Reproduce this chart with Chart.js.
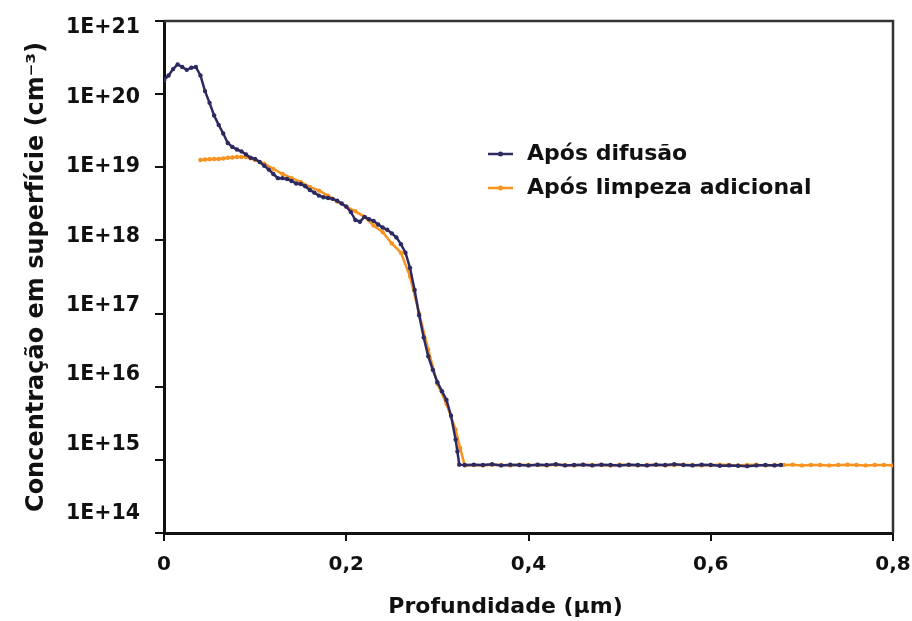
<!DOCTYPE html>
<html>
<head>
<meta charset="utf-8">
<script src="https://cdn.jsdelivr.net/npm/chart.js@4.4.1/dist/chart.umd.min.js"></script>
<style>
  html, body { margin: 0; padding: 0; background: #fff; }
  #wrap { width: 912px; height: 621px; }
</style>
</head>
<body>
<div id="wrap"><canvas id="chart" width="912" height="621"></canvas></div>
<script>
// ---------------- DATA ----------------
const seriesNames = ["Após difusão", "Após limpeza adicional"];

// Após difusão (µm, cm-3)
const depthDiff = [
  0, 0.005, 0.01, 0.015, 0.02, 0.025, 0.03, 0.035, 0.04, 0.045,
  0.05, 0.055, 0.06, 0.065, 0.07, 0.075, 0.08, 0.085, 0.09, 0.095,
  0.10, 0.105, 0.11, 0.115, 0.12, 0.125, 0.13, 0.135, 0.14, 0.145,
  0.15, 0.155, 0.16, 0.165, 0.17, 0.175, 0.18, 0.185, 0.19, 0.195,
  0.20, 0.205, 0.21, 0.215, 0.22, 0.225, 0.23, 0.235, 0.24, 0.245,
  0.25, 0.255, 0.26, 0.265, 0.27, 0.275, 0.28, 0.285, 0.29, 0.295,
  0.30, 0.305, 0.31, 0.315, 0.32, 0.322, 0.324,
  0.33, 0.34, 0.35, 0.36, 0.37, 0.38, 0.39, 0.40, 0.41, 0.42,
  0.43, 0.44, 0.45, 0.46, 0.47, 0.48, 0.49, 0.50, 0.51, 0.52,
  0.53, 0.54, 0.55, 0.56, 0.57, 0.58, 0.59, 0.60, 0.61, 0.62,
  0.63, 0.64, 0.65, 0.66, 0.67, 0.677
];
const concDiff = [
  1.55e20, 1.8e20, 2.2e20, 2.55e20, 2.35e20, 2.15e20, 2.3e20, 2.35e20, 1.8e20, 1.1e20,
  7.6e19, 5.1e19, 3.8e19, 2.9e19, 2.15e19, 1.9e19, 1.75e19, 1.65e19, 1.5e19, 1.35e19,
  1.3e19, 1.18e19, 1.05e19, 9.3e18, 8.1e18, 7.1e18, 7.1e18, 6.9e18, 6.5e18, 6.0e18,
  5.9e18, 5.5e18, 4.9e18, 4.5e18, 4.1e18, 3.9e18, 3.8e18, 3.7e18, 3.5e18, 3.2e18,
  2.9e18, 2.45e18, 1.9e18, 1.8e18, 2.1e18, 1.95e18, 1.85e18, 1.65e18, 1.5e18, 1.4e18,
  1.25e18, 1.1e18, 8.9e17, 6.8e17, 4.2e17, 2.1e17, 9.5e16, 4.7e16, 2.6e16, 1.7e16,
  1.15e16, 8.7e15, 6.6e15, 4.0e15, 1.9e15, 1.3e15, 8.6e14,
  8.5e14, 8.6e14, 8.5e14, 8.7e14, 8.4e14, 8.6e14, 8.5e14, 8.4e14, 8.6e14, 8.5e14,
  8.7e14, 8.4e14, 8.5e14, 8.6e14, 8.4e14, 8.6e14, 8.5e14, 8.4e14, 8.6e14, 8.5e14,
  8.4e14, 8.6e14, 8.5e14, 8.7e14, 8.5e14, 8.4e14, 8.6e14, 8.5e14, 8.3e14, 8.4e14,
  8.3e14, 8.2e14, 8.4e14, 8.5e14, 8.4e14, 8.5e14
];

// Após limpeza adicional
const depthClean = [
  0.04, 0.045, 0.05, 0.055, 0.06, 0.065, 0.07, 0.075, 0.08, 0.085, 0.09, 0.095, 0.10,
  0.11, 0.12, 0.13, 0.14, 0.15, 0.16, 0.17, 0.18, 0.19, 0.20, 0.21,
  0.22, 0.23, 0.24, 0.25, 0.26, 0.27, 0.28, 0.29, 0.30, 0.31, 0.32,
  0.325, 0.33,
  0.34, 0.35, 0.36, 0.37, 0.38, 0.39, 0.40, 0.41, 0.42, 0.43,
  0.44, 0.45, 0.46, 0.47, 0.48, 0.49, 0.50, 0.51, 0.52, 0.53,
  0.54, 0.55, 0.56, 0.57, 0.58, 0.59, 0.60, 0.61, 0.62, 0.63,
  0.64, 0.65, 0.66, 0.67, 0.68, 0.69, 0.70, 0.71, 0.72, 0.73,
  0.74, 0.75, 0.76, 0.77, 0.78, 0.79, 0.80
];
const concClean = [
  1.26e19, 1.28e19, 1.29e19, 1.3e19, 1.3e19, 1.32e19, 1.35e19, 1.36e19, 1.38e19, 1.38e19, 1.38e19, 1.33e19, 1.26e19,
  1.12e19, 9.5e18, 8.1e18, 7.1e18, 6.3e18, 5.4e18, 4.8e18, 4.1e18, 3.4e18, 2.9e18, 2.5e18,
  2.1e18, 1.6e18, 1.3e18, 9.1e17, 6.8e17, 3.2e17, 1.0e17, 3.2e16, 1.1e16, 5.8e15, 2.6e15,
  1.45e15, 8.4e14,
  8.5e14, 8.4e14, 8.6e14, 8.5e14, 8.4e14, 8.6e14, 8.5e14, 8.5e14, 8.4e14, 8.6e14,
  8.5e14, 8.4e14, 8.6e14, 8.5e14, 8.5e14, 8.4e14, 8.6e14, 8.5e14, 8.4e14, 8.5e14,
  8.6e14, 8.4e14, 8.5e14, 8.6e14, 8.5e14, 8.4e14, 8.5e14, 8.6e14, 8.5e14, 8.4e14,
  8.5e14, 8.6e14, 8.4e14, 8.5e14, 8.5e14, 8.6e14, 8.4e14, 8.5e14, 8.5e14, 8.4e14,
  8.5e14, 8.6e14, 8.5e14, 8.4e14, 8.5e14, 8.5e14, 8.4e14
];

const xTickValues = [0, 0.2, 0.4, 0.6, 0.8];
const xTickLabels = ["0", "0,2", "0,4", "0,6", "0,8"];
const yTickExp = [14, 15, 16, 17, 18, 19, 20, 21];
const yTickLabels = ["1E+14", "1E+15", "1E+16", "1E+17", "1E+18", "1E+19", "1E+20", "1E+21"];

// ---------------- STYLE ----------------
// the original text is a horizontally stretched Arial; DejaVu Sans has about the same proportions
const FONT = '"DejaVu Sans", "Liberation Sans", Arial, sans-serif';
const ink = "#111";
const navy = "#2c2a60";
const orange = "#f7931e";

const pts = (xs, ys) => xs.map((x, i) => ({ x: x, y: ys[i] }));
const decadeTicks = s => { s.ticks = yTickExp.map(e => ({ value: Math.pow(10, e) })); };

// box around the plot (top + right)
const frame = {
    id: "frame",
    beforeDatasetsDraw(chart) {
        const { ctx, chartArea: a } = chart;
        ctx.save();
        ctx.strokeStyle = "#333";
        ctx.lineWidth = 2.5;
        ctx.beginPath();
        ctx.moveTo(a.left, a.top);
        ctx.lineTo(a.right, a.top);
        ctx.lineTo(a.right, a.bottom);
        ctx.stroke();
        ctx.restore();
    }
};

// legend inside the plot
const legendIn = {
    id: "legendIn",
    afterDraw(chart) {
        const ctx = chart.ctx;
        const x0 = 488, y0 = 154, gap = 34;
        ctx.save();
        chart.data.datasets.forEach((ds, i) => {
            const y = y0 + i * gap;
            ctx.strokeStyle = ds.borderColor;
            ctx.lineWidth = 2.5;
            ctx.beginPath();
            ctx.moveTo(x0, y);
            ctx.lineTo(x0 + 25, y);
            ctx.stroke();
            ctx.fillStyle = ds.borderColor;
            ctx.beginPath();
            ctx.arc(x0 + 12.5, y, 2.5, 0, Math.PI * 2);
            ctx.fill();
            ctx.fillStyle = ink;
            ctx.font = "bold 22px " + FONT;
            ctx.textBaseline = "middle";
            ctx.textAlign = "left";
            ctx.fillText(ds.label, x0 + 39, y);
        });
        ctx.restore();
    }
};

const ctx = document.getElementById("chart").getContext("2d");
new Chart(ctx, {
    type: "line",
    data: {
        datasets: [{
            label: seriesNames[0],
            data: pts(depthDiff, concDiff),
            borderColor: navy,
            backgroundColor: navy,
            borderWidth: 2.5,
            pointRadius: 2.2,
            pointBorderWidth: 0,
            tension: 0
        }, {
            label: seriesNames[1],
            data: pts(depthClean, concClean),
            borderColor: orange,
            backgroundColor: orange,
            borderWidth: 2.5,
            pointRadius: 2.2,
            pointBorderWidth: 0,
            tension: 0
        }]
    },
    options: {
        responsive: false,
        animation: false,
        layout: { padding: { top: 21, right: 19, left: 0, bottom: 0 } },
        plugins: { legend: { display: false }, tooltip: { enabled: false } },
        scales: {
            x: {
                type: "linear", min: 0, max: 0.8,
                afterBuildTicks: s => { s.ticks = xTickValues.map(v => ({ value: v })); },
                afterFit: s => { s.height = 88; s.paddingRight = 19; s.paddingLeft = 0; },
                ticks: {
                    padding: 12, color: ink, autoSkip: false, maxRotation: 0,
                    font: { family: FONT, size: 20, weight: "bold" },
                    callback: (v, i) => xTickLabels[i]
                },
                grid: { drawOnChartArea: false, drawTicks: true, tickLength: 8, color: ink, lineWidth: 2 },
                border: { display: true, color: ink, width: 3 },
                title: {
                    display: true, text: "Profundidade (µm)" + "\u00a0".repeat(6), color: ink,
                    font: { family: FONT, size: 22, weight: "bold" },
                    padding: { top: 0, bottom: 1 }
                }
            },
            // tick marks
            y: {
                type: "logarithmic", position: "left", min: 1e14, max: 1e21, weight: 0,
                afterBuildTicks: decadeTicks,
                afterFit: s => { s.width = 9; },
                ticks: { display: false },
                grid: { drawOnChartArea: false, drawTicks: true, tickLength: 9, color: ink, lineWidth: 2 },
                border: { display: true, color: ink, width: 3 }
            },
            // tick labels (set slightly off the marks as in the original figure)
            y2: {
                type: "logarithmic", position: "left", weight: 1,
                min: Math.pow(10, 13.726), max: Math.pow(10, 21.1008),
                afterBuildTicks: decadeTicks,
                afterFit: s => { s.width = 155; },
                ticks: {
                    padding: 7, color: ink, autoSkip: false,
                    font: { family: FONT, size: 20.5, weight: "bold" },
                    callback: v => yTickLabels[yTickExp.indexOf(Math.round(Math.log10(v)))]
                },
                grid: { display: false },
                border: { display: false },
                title: {
                    display: true, text: "Concentração em superfície (cm⁻³)", color: ink,
                    font: { family: FONT, size: 24, weight: "bold" },
                    padding: { top: 22, bottom: 0 }
                }
            }
        }
    },
    plugins: [frame, legendIn]
});
</script>
</body>
</html>
